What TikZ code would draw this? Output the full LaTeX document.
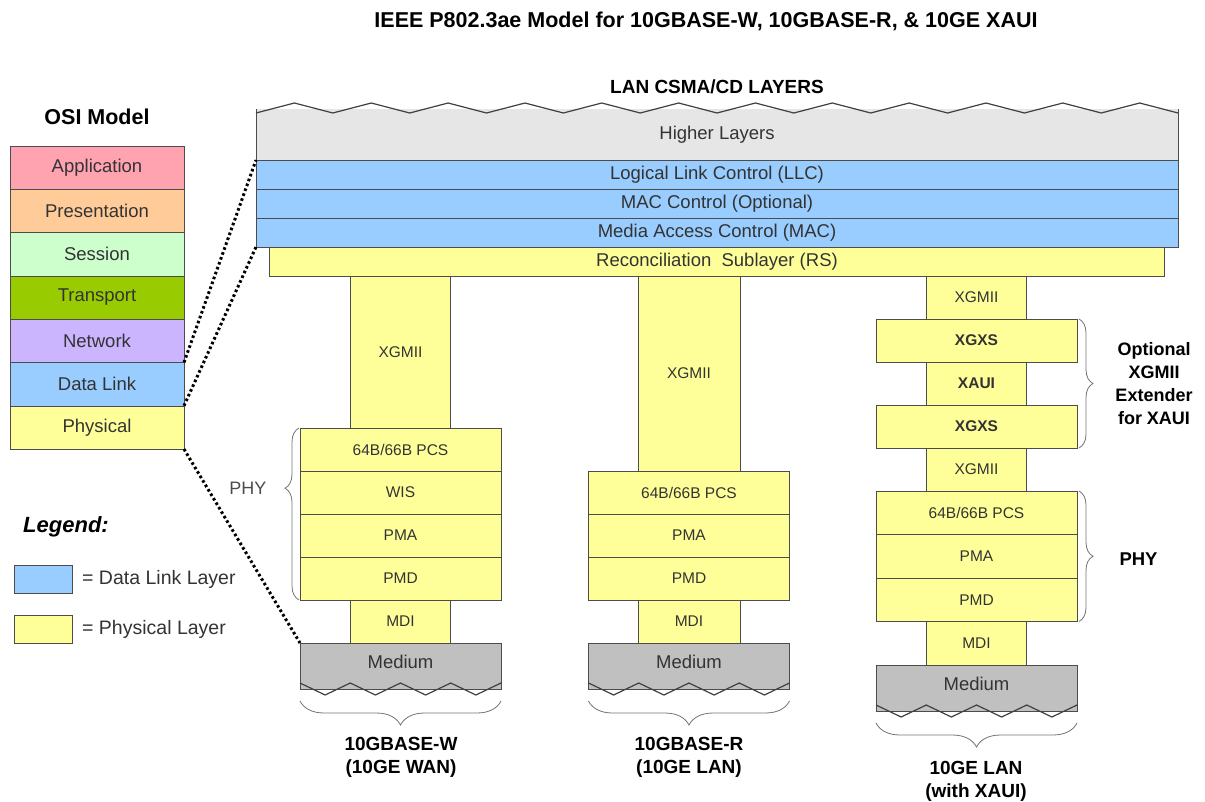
\documentclass[tikz,border=0pt]{standalone}
\usepackage{fontspec}
\setmainfont{Liberation Sans}
\usepackage[dvipsnames]{xcolor}
\usetikzlibrary{positioning,decorations.pathreplacing}

\definecolor{appcol}{HTML}{FFA3B1}
\definecolor{prescol}{HTML}{FFCC99}
\definecolor{sesscol}{HTML}{CCFFCC}
\definecolor{transcol}{HTML}{99CC00}
\definecolor{netcol}{HTML}{CCB5FF}
\definecolor{linkcol}{HTML}{99CCFF}
\definecolor{phycol}{HTML}{FFFF99}
\definecolor{highcol}{HTML}{E6E6E6}
\definecolor{medcol}{HTML}{C0C0C0}

\begin{document}
\begin{tikzpicture}[x=1pt,y=-1pt,node distance=0pt,
    layer/.style={draw=black!70,inner sep=0pt,outer sep=0pt,text=black!80,font=\fontsize{18.5}{20}\selectfont},
    osi layer/.style={layer,minimum width=174pt,minimum height=43.3pt},
    lan layer/.style={layer,fill=linkcol,minimum width=922pt,minimum height=29pt},
    wide phy/.style={layer,fill=phycol,minimum width=201pt,minimum height=43pt,font=\fontsize{15.5}{17}\selectfont},
    narrow phy/.style={wide phy,minimum width=100pt},
    medium/.style={layer,fill=medcol,minimum width=201pt,minimum height=46pt,text depth=8pt},
    zig line/.style={draw=black!75,line width=1.2pt,line join=round},
    curly/.style={decorate,decoration={brace,amplitude=14pt},draw=black!55,thick},
    dotted link/.style={line width=3pt,dash pattern=on 2.6pt off 2.6pt},
    heading/.style={font=\fontsize{19}{23}\selectfont\bfseries,align=center},
    key text/.style={inner sep=0pt,text=black!80,font=\fontsize{19.5}{21}\selectfont}]

            \useasboundingbox (0,0) rectangle (1205,801);

            \node (title) at (706,21) [font=\fontsize{21.5}{24}\selectfont\bfseries] {IEEE P802.3ae Model for 10GBASE-W, 10GBASE-R, \& 10GE XAUI};

            \node (osi) at (97,117) [font=\fontsize{21.5}{24}\selectfont\bfseries] {OSI Model};
            \node[osi layer,fill=appcol] (app) at (97,167.6) {Application};
            \node[osi layer,fill=prescol,below=of app] (pres) {Presentation};
            \node[osi layer,fill=sesscol,below=of pres] (sess) {Session};
            \node[osi layer,fill=transcol,below=of sess] (trans) {Transport};
            \node[osi layer,fill=netcol,below=of trans] (net) {Network};
            \node[osi layer,fill=linkcol,below=of net] (dl) {Data Link};
            \node[osi layer,fill=phycol,below=of dl] (phys) {Physical};

            \node (lan) at (717,87) [heading] {LAN CSMA/CD LAYERS};
            \node[layer,fill=highcol,draw=none,minimum width=922pt,minimum height=51pt] (high) at (717,134.5) {Higher Layers};
            \node[lan layer,below=of high] (llc) {Logical Link Control (LLC)};
            \node[lan layer,below=of llc] (macc) {MAC Control (Optional)};
            \node[lan layer,below=of macc] (mac) {Media Access Control (MAC)};
            \node[layer,fill=phycol,minimum width=895pt,minimum height=29pt,below=of mac] (rs) {Reconciliation\ \ Sublayer (RS)};
            \draw[black!70] (high.north west) -- (high.south west) (high.north east) -- (high.south east);
            \draw[zig line] ([yshift=-4pt]high.north west) foreach \k in {1,...,12} { -- ++(38.42,-10) -- ++(38.42,10)};

            \node[narrow phy,minimum height=152pt,anchor=north] (xgmii1) at (400.5,276) {XGMII};
            \node[wide phy,below=of xgmii1] (pcs1) {64B/66B PCS};
            \node[wide phy,below=of pcs1] (wis1) {WIS};
            \node[wide phy,below=of wis1] (pma1) {PMA};
            \node[wide phy,below=of pma1] (pmd1) {PMD};
            \node[narrow phy,below=of pmd1] (mdi1) {MDI};
            \node[medium,below=of mdi1] (med1) {Medium};

            \node[narrow phy,minimum width=102pt,minimum height=195pt,anchor=north] (xgmii2) at (689,276) {XGMII};
            \node[wide phy,below=of xgmii2] (pcs2) {64B/66B PCS};
            \node[wide phy,below=of pcs2] (pma2) {PMA};
            \node[wide phy,below=of pma2] (pmd2) {PMD};
            \node[narrow phy,minimum width=102pt,below=of pmd2] (mdi2) {MDI};
            \node[medium,below=of mdi2] (med2) {Medium};

            \node[narrow phy,anchor=north] (xgmii3) at (976.5,276) {XGMII};
            \node[wide phy,below=of xgmii3,font=\fontsize{15.5}{17}\selectfont\bfseries] (xgxs3) {XGXS};
            \node[narrow phy,below=of xgxs3,font=\fontsize{15.5}{17}\selectfont\bfseries] (xaui3) {XAUI};
            \node[wide phy,below=of xaui3,font=\fontsize{15.5}{17}\selectfont\bfseries] (xgxs3b) {XGXS};
            \node[narrow phy,below=of xgxs3b] (xgmii3b) {XGMII};
            \node[wide phy,minimum height=43.5pt,below=of xgmii3b] (pcs3) {64B/66B PCS};
            \node[wide phy,minimum height=43.5pt,below=of pcs3] (pma3) {PMA};
            \node[wide phy,minimum height=43.5pt,below=of pma3] (pmd3) {PMD};
            \node[narrow phy,minimum height=43.5pt,below=of pmd3] (mdi3) {MDI};
            \node[medium,below=of mdi3] (med3) {Medium};

            \draw[zig line] ([yshift=6pt]med1.south west) foreach \k in {1,...,4} { -- ++(25.125,12) -- ++(25.125,-12)};
            \draw[zig line] ([yshift=6pt]med2.south west) foreach \k in {1,...,4} { -- ++(25.125,12) -- ++(25.125,-12)};
            \draw[zig line] ([yshift=6pt]med3.south west) foreach \k in {1,...,4} { -- ++(25.125,12) -- ++(25.125,-12)};

            \draw[curly,decoration={aspect=0.65}] ([xshift=-1pt]pmd1.south west) -- ([xshift=-1pt]pcs1.north west);
            \node[text=black!70,font=\fontsize{18}{20}\selectfont,anchor=east] (phy1) at (270,488) {PHY};
            \draw[curly] ([xshift=2pt]xgxs3.north east) -- ([xshift=2pt]xgxs3b.south east);
            \node[heading,font=\fontsize{18}{23}\selectfont\bfseries] (ext) at (1154,384) {Optional\\XGMII\\Extender\\for XAUI};
            \draw[curly] ([xshift=2pt]pcs3.north east) -- ([xshift=2pt]pmd3.south east);
            \node[heading,font=\fontsize{18.5}{23}\selectfont\bfseries,anchor=west] (phy3) at (1116,559) {PHY};

            \draw[curly,decoration={amplitude=24pt}] ([yshift=-12pt]med1.south east) -- ([yshift=-12pt]med1.south west);
            \draw[curly,decoration={amplitude=24pt}] ([yshift=-12pt]med2.south east) -- ([yshift=-12pt]med2.south west);
            \draw[curly,decoration={amplitude=24pt}] ([yshift=-12pt]med3.south east) -- ([yshift=-12pt]med3.south west);
            \node[heading] (wan) at (401,757) {10GBASE-W\\(10GE WAN)};
            \node[heading] (lanr) at (689,757) {10GBASE-R\\(10GE LAN)};
            \node[heading] (lanx) at (976,781) {10GE LAN\\(with XAUI)};

            \node (legend) at (66,527) [font=\fontsize{22}{24}\selectfont\bfseries\itshape] {Legend:};
            \node[layer,fill=linkcol,minimum width=58pt,minimum height=28pt] (key1) at (43,579) {};
            \node[key text,right=10pt of key1] (keytext1) {= Data Link Layer};
            \node[layer,fill=phycol,minimum width=58pt,minimum height=28pt] (key2) at (43,629) {};
            \node[key text,right=10pt of key2] (keytext2) {= Physical Layer};

            \path[dotted link]
                (dl.north east) edge (llc.north west)
                (dl.south east) edge (mac.south west)
                (phys.south east) edge (med1.north west)
            ;
        \end{tikzpicture}
\end{document}
